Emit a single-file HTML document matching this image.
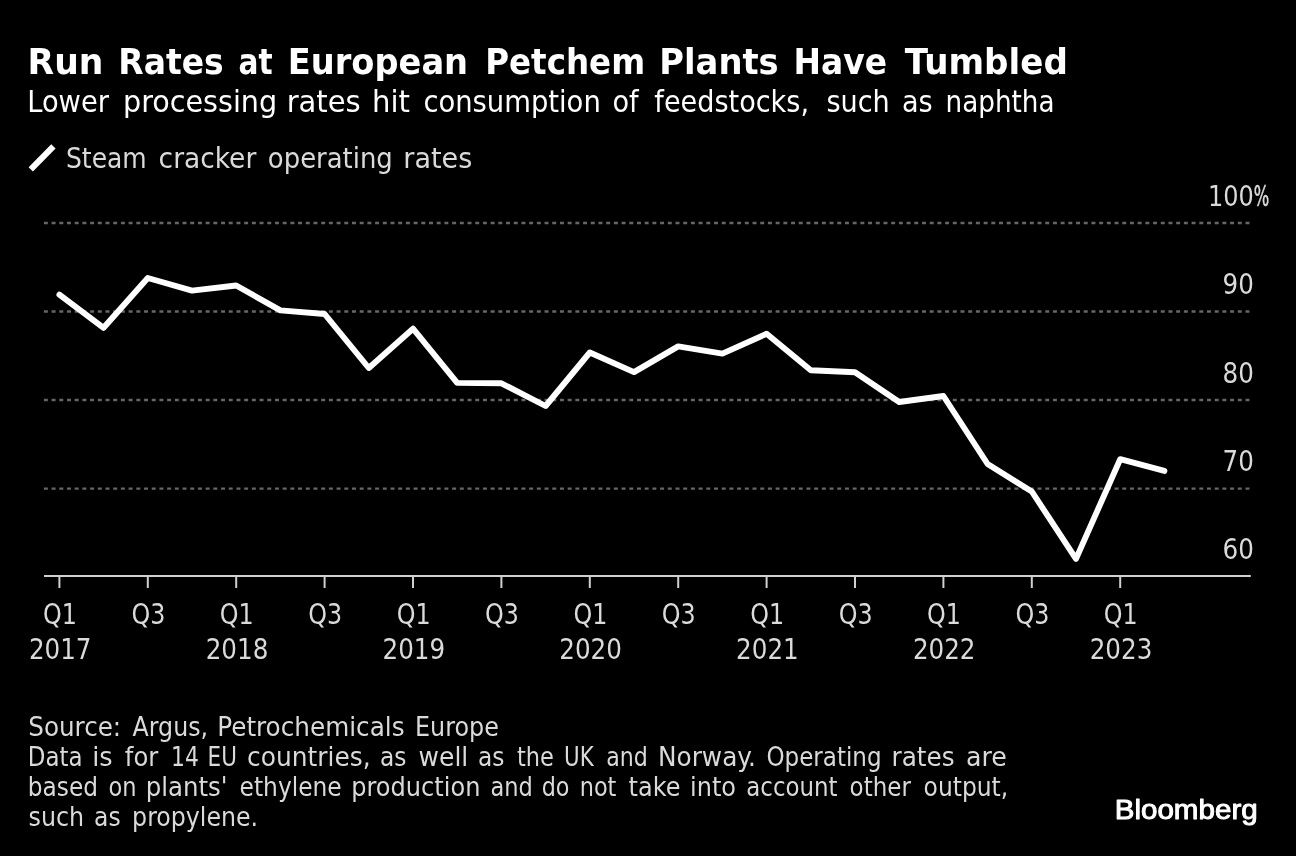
<!DOCTYPE html>
<html lang="en"><head><meta charset="utf-8"><title>Run Rates at European Petchem Plants Have Tumbled</title>
<style>
html,body{margin:0;padding:0;background:#000;}
body{width:1296px;height:856px;overflow:hidden;}
svg{display:block;}
text{font-family:'DejaVu Sans Condensed','DejaVu Sans','Liberation Sans',sans-serif;fill:#dadada;}
.t{font-family:'DejaVu Sans','Liberation Sans',sans-serif;font-weight:bold;fill:#fff;}
.s{fill:#fff;}
.bb{font-family:'Liberation Sans',sans-serif;font-weight:normal;fill:#fff;}
</style></head><body>
<svg width="1296" height="856" viewBox="0 0 1296 856">
<rect width="1296" height="856" fill="#000"/>

<text class="t" y="74" font-size="34.7"><tspan x="27.61" textLength="75.84" lengthAdjust="spacingAndGlyphs">Run</tspan> <tspan x="118.26" textLength="105.44" lengthAdjust="spacingAndGlyphs">Rates</tspan> <tspan x="238.47" textLength="34.12" lengthAdjust="spacingAndGlyphs">at</tspan> <tspan x="287.80" textLength="180.27" lengthAdjust="spacingAndGlyphs">European</tspan> <tspan x="485.20" textLength="159.90" lengthAdjust="spacingAndGlyphs">Petchem</tspan> <tspan x="659.28" textLength="119.48" lengthAdjust="spacingAndGlyphs">Plants</tspan> <tspan x="793.47" textLength="93.48" lengthAdjust="spacingAndGlyphs">Have</tspan> <tspan x="904.70" textLength="163.17" lengthAdjust="spacingAndGlyphs">Tumbled</tspan></text>
<text class="s" y="112" font-size="31.0"><tspan x="27.26" textLength="81.68" lengthAdjust="spacingAndGlyphs">Lower</tspan> <tspan x="122.98" textLength="154.23" lengthAdjust="spacingAndGlyphs">processing</tspan> <tspan x="286.65" textLength="74.10" lengthAdjust="spacingAndGlyphs">rates</tspan> <tspan x="371.94" textLength="37.94" lengthAdjust="spacingAndGlyphs">hit</tspan> <tspan x="423.38" textLength="177.38" lengthAdjust="spacingAndGlyphs">consumption</tspan> <tspan x="612.39" textLength="26.15" lengthAdjust="spacingAndGlyphs">of</tspan> <tspan x="654.36" textLength="154.66" lengthAdjust="spacingAndGlyphs">feedstocks,</tspan> <tspan x="826.39" textLength="63.33" lengthAdjust="spacingAndGlyphs">such</tspan> <tspan x="901.95" textLength="30.74" lengthAdjust="spacingAndGlyphs">as</tspan> <tspan x="945.50" textLength="109.11" lengthAdjust="spacingAndGlyphs">naphtha</tspan></text>
<text class="g" y="168" font-size="28.0"><tspan x="66.01" textLength="80.73" lengthAdjust="spacingAndGlyphs">Steam</tspan> <tspan x="158.64" textLength="97.65" lengthAdjust="spacingAndGlyphs">cracker</tspan> <tspan x="267.87" textLength="124.93" lengthAdjust="spacingAndGlyphs">operating</tspan> <tspan x="403.34" textLength="68.90" lengthAdjust="spacingAndGlyphs">rates</tspan></text>
<text class="g" y="735.7" font-size="26"><tspan x="28.27" textLength="92.90" lengthAdjust="spacingAndGlyphs">Source:</tspan> <tspan x="132.60" textLength="75.49" lengthAdjust="spacingAndGlyphs">Argus,</tspan> <tspan x="217.27" textLength="187.23" lengthAdjust="spacingAndGlyphs">Petrochemicals</tspan> <tspan x="415.06" textLength="83.82" lengthAdjust="spacingAndGlyphs">Europe</tspan></text>
<text class="g" y="765.7" font-size="26"><tspan x="27.75" textLength="54.67" lengthAdjust="spacingAndGlyphs">Data</tspan> <tspan x="92.19" textLength="20.46" lengthAdjust="spacingAndGlyphs">is</tspan> <tspan x="124.83" textLength="33.42" lengthAdjust="spacingAndGlyphs">for</tspan> <tspan x="171.01" textLength="27.82" lengthAdjust="spacingAndGlyphs">14</tspan> <tspan x="207.58" textLength="29.32" lengthAdjust="spacingAndGlyphs">EU</tspan> <tspan x="247.12" textLength="123.49" lengthAdjust="spacingAndGlyphs">countries,</tspan> <tspan x="379.90" textLength="26.48" lengthAdjust="spacingAndGlyphs">as</tspan> <tspan x="418.58" textLength="49.71" lengthAdjust="spacingAndGlyphs">well</tspan> <tspan x="477.90" textLength="26.48" lengthAdjust="spacingAndGlyphs">as</tspan> <tspan x="517.07" textLength="36.88" lengthAdjust="spacingAndGlyphs">the</tspan> <tspan x="564.02" textLength="29.64" lengthAdjust="spacingAndGlyphs">UK</tspan> <tspan x="606.17" textLength="41.59" lengthAdjust="spacingAndGlyphs">and</tspan> <tspan x="657.97" textLength="97.97" lengthAdjust="spacingAndGlyphs">Norway.</tspan> <tspan x="766.42" textLength="115.15" lengthAdjust="spacingAndGlyphs">Operating</tspan> <tspan x="891.54" textLength="63.08" lengthAdjust="spacingAndGlyphs">rates</tspan> <tspan x="966.00" textLength="40.84" lengthAdjust="spacingAndGlyphs">are</tspan></text>
<text class="g" y="795.7" font-size="26"><tspan x="27.87" textLength="70.09" lengthAdjust="spacingAndGlyphs">based</tspan> <tspan x="108.45" textLength="28.02" lengthAdjust="spacingAndGlyphs">on</tspan> <tspan x="145.76" textLength="81.79" lengthAdjust="spacingAndGlyphs">plants'</tspan> <tspan x="239.60" textLength="102.15" lengthAdjust="spacingAndGlyphs">ethylene</tspan> <tspan x="351.29" textLength="129.16" lengthAdjust="spacingAndGlyphs">production</tspan> <tspan x="490.45" textLength="42.34" lengthAdjust="spacingAndGlyphs">and</tspan> <tspan x="541.66" textLength="27.81" lengthAdjust="spacingAndGlyphs">do</tspan> <tspan x="579.74" textLength="36.65" lengthAdjust="spacingAndGlyphs">not</tspan> <tspan x="628.64" textLength="51.81" lengthAdjust="spacingAndGlyphs">take</tspan> <tspan x="690.04" textLength="45.95" lengthAdjust="spacingAndGlyphs">into</tspan> <tspan x="746.33" textLength="91.25" lengthAdjust="spacingAndGlyphs">account</tspan> <tspan x="849.62" textLength="61.29" lengthAdjust="spacingAndGlyphs">other</tspan> <tspan x="923.60" textLength="84.58" lengthAdjust="spacingAndGlyphs">output,</tspan></text>
<text class="g" y="825.8" font-size="26"><tspan x="28.58" textLength="55.57" lengthAdjust="spacingAndGlyphs">such</tspan> <tspan x="94.10" textLength="26.59" lengthAdjust="spacingAndGlyphs">as</tspan> <tspan x="132.12" textLength="126.01" lengthAdjust="spacingAndGlyphs">propylene.</tspan></text>
<line x1="30.8" y1="169.3" x2="53.4" y2="146.4" stroke="#fff" stroke-width="6.1"/>
<line x1="43.9" y1="223.0" x2="1249.6" y2="223.0" stroke="#666" stroke-width="2.3" stroke-dasharray="3.95 3.7526"/>
<line x1="43.9" y1="311.5" x2="1249.6" y2="311.5" stroke="#666" stroke-width="2.3" stroke-dasharray="3.95 3.7526"/>
<line x1="43.9" y1="400.0" x2="1249.6" y2="400.0" stroke="#666" stroke-width="2.3" stroke-dasharray="3.95 3.7526"/>
<line x1="43.9" y1="488.6" x2="1249.6" y2="488.6" stroke="#666" stroke-width="2.3" stroke-dasharray="3.95 3.7526"/>
<line x1="44" y1="576.1" x2="1250.8" y2="576.1" stroke="#d0d0d0" stroke-width="2"/>
<line x1="59.4" y1="576.1" x2="59.4" y2="588" stroke="#d0d0d0" stroke-width="2"/>
<line x1="147.8" y1="576.1" x2="147.8" y2="588" stroke="#d0d0d0" stroke-width="2"/>
<line x1="236.2" y1="576.1" x2="236.2" y2="588" stroke="#d0d0d0" stroke-width="2"/>
<line x1="324.6" y1="576.1" x2="324.6" y2="588" stroke="#d0d0d0" stroke-width="2"/>
<line x1="413.0" y1="576.1" x2="413.0" y2="588" stroke="#d0d0d0" stroke-width="2"/>
<line x1="501.4" y1="576.1" x2="501.4" y2="588" stroke="#d0d0d0" stroke-width="2"/>
<line x1="589.8" y1="576.1" x2="589.8" y2="588" stroke="#d0d0d0" stroke-width="2"/>
<line x1="678.2" y1="576.1" x2="678.2" y2="588" stroke="#d0d0d0" stroke-width="2"/>
<line x1="766.6" y1="576.1" x2="766.6" y2="588" stroke="#d0d0d0" stroke-width="2"/>
<line x1="855.0" y1="576.1" x2="855.0" y2="588" stroke="#d0d0d0" stroke-width="2"/>
<line x1="943.4" y1="576.1" x2="943.4" y2="588" stroke="#d0d0d0" stroke-width="2"/>
<line x1="1031.8" y1="576.1" x2="1031.8" y2="588" stroke="#d0d0d0" stroke-width="2"/>
<line x1="1120.2" y1="576.1" x2="1120.2" y2="588" stroke="#d0d0d0" stroke-width="2"/>
<text x="1253.9" y="205.7" font-size="27.9" text-anchor="end" textLength="45.8" lengthAdjust="spacingAndGlyphs">100</text>
<text x="1253.9" y="294.2" font-size="27.9" text-anchor="end" textLength="31.3" lengthAdjust="spacingAndGlyphs">90</text>
<text x="1253.9" y="382.7" font-size="27.9" text-anchor="end" textLength="31.3" lengthAdjust="spacingAndGlyphs">80</text>
<text x="1253.9" y="471.3" font-size="27.9" text-anchor="end" textLength="31.3" lengthAdjust="spacingAndGlyphs">70</text>
<text x="1253.9" y="558.8" font-size="27.9" text-anchor="end" textLength="31.3" lengthAdjust="spacingAndGlyphs">60</text>
<text x="1253.7" y="205.7" font-size="27.9" stroke="#dadada" stroke-width="0.5" textLength="15.5" lengthAdjust="spacingAndGlyphs">%</text>
<text x="60.0" y="624.2" font-size="27.9" text-anchor="middle" textLength="33.9" lengthAdjust="spacingAndGlyphs">Q1</text>
<text x="60.2" y="659" font-size="27.9" text-anchor="middle" textLength="62.6" lengthAdjust="spacingAndGlyphs">2017</text>
<text x="148.4" y="624.2" font-size="27.9" text-anchor="middle" textLength="33.9" lengthAdjust="spacingAndGlyphs">Q3</text>
<text x="236.8" y="624.2" font-size="27.9" text-anchor="middle" textLength="33.9" lengthAdjust="spacingAndGlyphs">Q1</text>
<text x="237.0" y="659" font-size="27.9" text-anchor="middle" textLength="62.6" lengthAdjust="spacingAndGlyphs">2018</text>
<text x="325.2" y="624.2" font-size="27.9" text-anchor="middle" textLength="33.9" lengthAdjust="spacingAndGlyphs">Q3</text>
<text x="413.6" y="624.2" font-size="27.9" text-anchor="middle" textLength="33.9" lengthAdjust="spacingAndGlyphs">Q1</text>
<text x="413.8" y="659" font-size="27.9" text-anchor="middle" textLength="62.6" lengthAdjust="spacingAndGlyphs">2019</text>
<text x="502.0" y="624.2" font-size="27.9" text-anchor="middle" textLength="33.9" lengthAdjust="spacingAndGlyphs">Q3</text>
<text x="590.4" y="624.2" font-size="27.9" text-anchor="middle" textLength="33.9" lengthAdjust="spacingAndGlyphs">Q1</text>
<text x="590.6" y="659" font-size="27.9" text-anchor="middle" textLength="62.6" lengthAdjust="spacingAndGlyphs">2020</text>
<text x="678.8" y="624.2" font-size="27.9" text-anchor="middle" textLength="33.9" lengthAdjust="spacingAndGlyphs">Q3</text>
<text x="767.2" y="624.2" font-size="27.9" text-anchor="middle" textLength="33.9" lengthAdjust="spacingAndGlyphs">Q1</text>
<text x="767.4" y="659" font-size="27.9" text-anchor="middle" textLength="62.6" lengthAdjust="spacingAndGlyphs">2021</text>
<text x="855.6" y="624.2" font-size="27.9" text-anchor="middle" textLength="33.9" lengthAdjust="spacingAndGlyphs">Q3</text>
<text x="944.0" y="624.2" font-size="27.9" text-anchor="middle" textLength="33.9" lengthAdjust="spacingAndGlyphs">Q1</text>
<text x="944.2" y="659" font-size="27.9" text-anchor="middle" textLength="62.6" lengthAdjust="spacingAndGlyphs">2022</text>
<text x="1032.4" y="624.2" font-size="27.9" text-anchor="middle" textLength="33.9" lengthAdjust="spacingAndGlyphs">Q3</text>
<text x="1120.8" y="624.2" font-size="27.9" text-anchor="middle" textLength="33.9" lengthAdjust="spacingAndGlyphs">Q1</text>
<text x="1121.0" y="659" font-size="27.9" text-anchor="middle" textLength="62.6" lengthAdjust="spacingAndGlyphs">2023</text>
<polyline points="59.4,294.7 103.6,327.8 147.8,278.0 192.0,290.6 236.2,285.5 280.4,310.4 324.6,314.0 368.8,368.0 413.0,328.7 457.2,382.9 501.4,383.3 545.6,406.0 589.8,352.5 634.0,372.1 678.2,346.4 722.4,353.6 766.6,333.8 810.8,370.3 855.0,372.2 899.2,402.0 943.4,396.0 987.6,464.0 1031.8,491.5 1076.0,558.9 1120.2,459.2 1164.4,470.9" fill="none" stroke="#fff" stroke-width="5.9" stroke-linejoin="round" stroke-linecap="round"/>
<text class="bb" x="1114.7" y="819.3" font-size="27.6" stroke="#fff" stroke-width="0.95" stroke-linejoin="round" textLength="143" lengthAdjust="spacingAndGlyphs">Bloomberg</text>
</svg></body></html>
